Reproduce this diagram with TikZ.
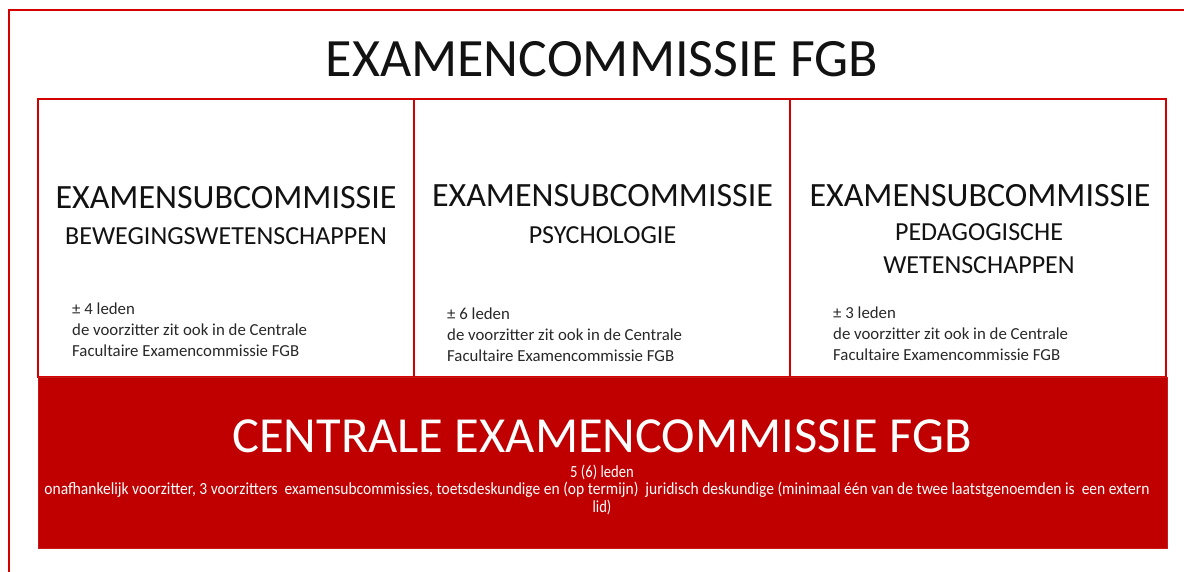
\documentclass[tikz,border=0pt]{standalone}
\usepackage{fontspec}
\setmainfont{Carlito}
\newfontfamily\condfont[FakeStretch=0.86]{Carlito}
\definecolor{bordred}{RGB}{212,0,0}
\definecolor{fillred}{RGB}{192,0,0}
\definecolor{txt}{RGB}{18,18,18}
\definecolor{smalltxt}{RGB}{40,40,40}
\tikzset{
  frameline/.style={draw=bordred, line width=2.4pt},
  subbox/.style={draw=bordred, line width=2.2pt, fill=white, minimum width=376pt, minimum height=278pt, inner sep=0pt},
  centralbox/.style={draw=fillred!90!white, line width=0.8pt, fill=fillred, minimum width=1129pt, minimum height=171pt, inner sep=0pt},
  maintitle/.style={text=txt, inner sep=0pt, font=\fontsize{54}{60}\selectfont},
  subtitle/.style={text=txt, inner sep=0pt, font=\fontsize{34}{40}\selectfont},
  subname/.style={text=txt, inner sep=0pt, font=\fontsize{26}{32}\selectfont},
  smallnote/.style={text=smalltxt, inner sep=0pt, anchor=west, align=left, font=\fontsize{16.8}{21}\selectfont},
  centraltitle/.style={text=white, inner sep=0pt, font=\fontsize{50.5}{56}\selectfont},
  centralnote/.style={text=white, inner sep=0pt, font=\condfont\fontsize{17}{19}\selectfont}
}
\begin{document}
\begin{tikzpicture}[x=1pt,y=-1pt]
\useasboundingbox (0,0) rectangle (1184,572);
% outer frame (only left and top edges visible)
\coordinate (fbl) at (9,590);
\coordinate (ftl) at (9,10);
\coordinate (ftr) at (1200,10);
\draw[frameline] (fbl) -- (ftl) -- (ftr);

\node[maintitle] (title) at (602,59) {EXAMENCOMMISSIE FGB};

% three sub-commission boxes
\node[subbox] (b1) at (226,238) {};
\node[subbox] (b2) at (602,238) {};
\node[subbox] (b3) at (978,238) {};

% central box
\node[centralbox] (c) at (602.5,462.5) {};

% box 1
\node[subtitle] (s1) at (226,198) {EXAMENSUBCOMMISSIE};
\node[subname] (n1) at (226,236) {BEWEGINGSWETENSCHAPPEN};
\node[smallnote] (t1) at (72,330) {± 4 leden\\de voorzitter zit ook in de Centrale\\Facultaire Examencommissie FGB};

% box 2
\node[subtitle] (s2) at (602.5,196) {EXAMENSUBCOMMISSIE};
\node[subname] (n2) at (602.5,235) {PSYCHOLOGIE};
\node[smallnote] (t2) at (447,335) {± 6 leden\\de voorzitter zit ook in de Centrale\\Facultaire Examencommissie FGB};

% box 3
\node[subtitle] (s3) at (980,196) {EXAMENSUBCOMMISSIE};
\node[subname] (n3a) at (979,232) {PEDAGOGISCHE};
\node[subname] (n3b) at (979,265) {WETENSCHAPPEN};
\node[smallnote] (t3) at (833,334) {± 3 leden\\de voorzitter zit ook in de Centrale\\Facultaire Examencommissie FGB};

% central texts
\node[centraltitle] (ct) at (602,436) {CENTRALE EXAMENCOMMISSIE FGB};
\node[centralnote] (cn1) at (602,472) {5 (6) leden};
\node[centralnote] (cn2) at (597,490) {\resizebox{1105pt}{\height}{onafhankelijk voorzitter, 3 voorzitters\ \ examensubcommissies, toetsdeskundige en (op termijn)\ \ juridisch deskundige (minimaal één van de twee laatstgenoemden is\ \ een extern}};
\node[centralnote] (cn3) at (602,507) {lid)};
\end{tikzpicture}
\end{document}
